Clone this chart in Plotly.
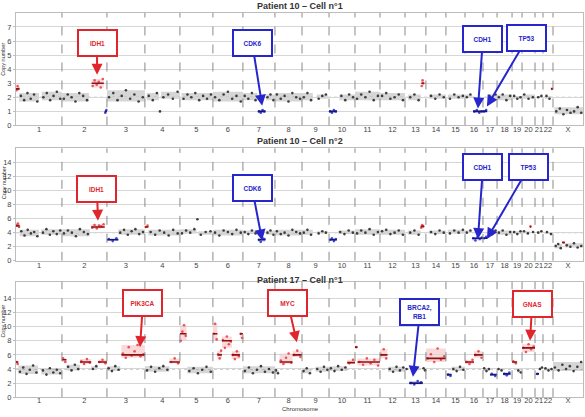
import plotly.graph_objects as go
import numpy as np

# ---------------- data ----------------
CHROMS = [str(i) for i in range(1, 23)] + ["X"]
# mappable length of each chromosome as laid out on the x axis (Mb)
CHROM_LEN = [248, 243, 205, 189, 178, 162, 173, 146, 146, 140, 135, 135,
             113, 108, 103, 97, 76, 81, 54, 70, 43, 54, 162]

PANEL_TITLES = ["Patient 10 \u2013 Cell n\u00b01", "Patient 10 \u2013 Cell n\u00b02",
                "Patient 17 \u2013 Cell n\u00b01"]
PANEL_BASELINE = [2, 4, 4]
PANEL_YMAX = [8, 16, 16.4]
PANEL_YTICKS = [list(range(0, 8)), list(range(0, 16, 2)), list(range(0, 16, 2))]

# segments: (chromosome, start fraction, end fraction, level, status g/l/n, bin values)
P1_SEGMENTS = [
    ("1", 0.00, 0.07, 2.6, "g", [2.5, 2.8, 2.6]),
    ("1", 0.07, 0.50, 2.0, "n", [2.1, 1.8, 2.3, 1.9, 2.2, 1.7]),
    ("1", 0.56, 1.00, 2.0, "n", [2.0, 2.3, 1.8, 2.1, 2.4, 1.9]),
    ("2", 0.00, 0.60, 2.0, "n", [1.9, 2.2, 2.0, 1.7, 2.3, 2.1, 1.8]),
    ("2", 0.66, 0.93, 3.0, "g", [2.8, 3.2, 2.9, 3.1, 2.7, 3.3]),
    ("2", 0.95, 1.00, 1.0, "l", [0.9, 1.1]),
    ("3", 0.00, 1.00, 2.0, "n", [2.0, 2.3, 1.8, 2.1, 2.5, 1.9, 2.2, 1.7, 2.0]),
    ("4", 0.05, 0.40, 2.0, "n", [2.1, 1.8, 2.3]),
    ("4", 0.40, 0.46, 1.0, "n", [1.0]),
    ("4", 0.46, 1.00, 2.0, "n", [2.0, 2.2, 1.9, 2.4]),
    ("5", 0.05, 1.00, 2.0, "n", [1.9, 2.2, 2.0, 2.3, 1.8, 2.1, 1.9, 2.2]),
    ("6", 0.00, 1.00, 2.0, "n", [2.0, 1.8, 2.2, 2.4, 1.9, 2.1, 1.7]),
    ("7", 0.00, 0.45, 2.0, "n", [2.1, 1.9, 2.3, 1.8]),
    ("7", 0.47, 0.70, 1.0, "l", [1.0, 0.9, 1.1, 1.0]),
    ("7", 0.72, 1.00, 2.0, "n", [2.0, 2.2, 1.8]),
    ("8", 0.00, 1.00, 2.0, "n", [2.2, 1.9, 2.1, 1.7, 2.3, 2.0, 1.9]),
    ("9", 0.00, 0.40, 2.0, "n", [2.0, 2.3, 1.8]),
    ("9", 0.55, 0.95, 2.0, "n", [1.9, 2.1, 2.2]),
    ("10", 0.00, 0.30, 1.0, "l", [1.0, 0.9, 1.1, 1.0]),
    ("10", 0.40, 1.00, 2.0, "n", [2.1, 1.8, 2.2, 2.0]),
    ("11", 0.00, 1.00, 2.0, "n", [1.9, 2.2, 2.0, 2.4, 1.8, 2.1]),
    ("12", 0.00, 1.00, 2.0, "n", [2.1, 2.3, 1.9, 2.0, 2.2, 1.8]),
    ("13", 0.15, 0.75, 2.0, "n", [2.0, 2.2, 1.8]),
    ("13", 0.78, 0.90, 3.0, "g", [2.8, 3.2, 3.0]),
    ("14", 0.15, 1.00, 2.0, "n", [2.1, 1.9, 2.2, 2.0]),
    ("15", 0.10, 1.00, 2.0, "n", [1.9, 2.2, 2.0, 2.1]),
    ("16", 0.00, 0.40, 2.0, "n", [2.0, 2.2]),
    ("16", 0.45, 1.00, 1.0, "l", [1.0, 1.1, 0.9, 1.0]),
    ("17", 0.00, 0.30, 1.0, "l", [1.0, 1.1]),
    ("17", 0.35, 1.00, 2.0, "n", [2.1, 1.9, 2.2]),
    ("18", 0.00, 1.00, 2.0, "n", [2.0, 2.2, 1.8, 2.1]),
    ("19", 0.05, 1.00, 2.0, "n", [2.1, 1.9, 2.0]),
    ("20", 0.00, 1.00, 2.0, "n", [2.2, 1.9, 2.0]),
    ("21", 0.20, 1.00, 2.0, "n", [2.0, 2.1]),
    ("22", 0.20, 0.80, 2.0, "n", [2.1, 1.9]),
    ("22", 0.80, 1.00, 2.6, "g", [2.6]),
    ("X", 0.05, 1.00, 1.0, "n", [1.0, 1.2, 0.8, 1.1, 0.9, 1.0, 1.3, 0.9]),
]

P2_SEGMENTS = [
    ("1", 0.00, 0.08, 5.0, "g", [5.0, 5.3, 4.8]),
    ("1", 0.08, 0.50, 4.0, "n", [4.2, 3.6, 4.4, 3.9, 4.1, 3.5]),
    ("1", 0.55, 1.00, 4.0, "n", [4.0, 4.5, 3.7, 4.2, 3.8, 4.3]),
    ("2", 0.00, 0.62, 4.0, "n", [3.9, 4.3, 4.0, 3.5, 4.5, 4.1, 3.8]),
    ("2", 0.65, 0.95, 4.8, "g", [4.7, 5.1, 4.6, 5.0, 4.9, 5.2]),
    ("3", 0.00, 0.30, 3.0, "l", [3.1, 2.8, 3.2]),
    ("3", 0.30, 1.00, 4.0, "n", [4.0, 4.4, 3.7, 4.2, 4.5, 3.8, 4.1]),
    ("4", 0.00, 0.10, 4.8, "g", [4.8, 5.0]),
    ("4", 0.10, 1.00, 4.0, "n", [4.1, 3.7, 4.3, 4.0, 3.6, 4.4, 3.9]),
    ("5", 0.00, 0.50, 4.0, "n", [3.9, 4.3, 4.0, 4.5]),
    ("5", 0.50, 0.56, 5.9, "n", [5.9]),
    ("5", 0.56, 1.00, 4.0, "n", [3.7, 4.1, 4.2]),
    ("6", 0.00, 1.00, 4.0, "n", [4.0, 3.6, 4.3, 4.1, 3.8, 4.4, 4.0]),
    ("7", 0.00, 0.45, 4.0, "n", [4.1, 3.8, 4.3, 3.9]),
    ("7", 0.47, 0.70, 3.0, "l", [3.0, 2.7, 3.2, 3.1]),
    ("7", 0.72, 1.00, 4.0, "n", [4.0, 4.3, 3.7]),
    ("8", 0.00, 1.00, 4.0, "n", [4.2, 3.8, 4.0, 3.6, 4.4, 4.1, 3.9]),
    ("9", 0.00, 0.40, 4.0, "n", [4.0, 4.4, 3.7]),
    ("9", 0.55, 0.95, 4.0, "n", [3.9, 4.2, 4.0]),
    ("10", 0.00, 0.30, 3.0, "l", [3.0, 3.2, 2.8, 3.1]),
    ("10", 0.35, 1.00, 4.0, "n", [4.1, 3.8, 4.3, 4.0]),
    ("11", 0.00, 1.00, 4.0, "n", [3.9, 4.3, 4.0, 4.5, 3.7, 4.1]),
    ("12", 0.00, 1.00, 4.0, "n", [4.2, 4.4, 3.8, 4.0, 4.3, 3.7]),
    ("13", 0.15, 0.75, 4.0, "n", [4.0, 4.3, 3.7]),
    ("13", 0.75, 0.90, 4.9, "g", [4.7, 5.1, 4.9]),
    ("14", 0.15, 1.00, 4.0, "n", [4.1, 3.8, 4.3, 4.0]),
    ("15", 0.10, 1.00, 4.0, "n", [3.9, 4.3, 4.0, 4.4]),
    ("16", 0.00, 0.40, 4.0, "n", [4.0, 4.3]),
    ("16", 0.40, 1.00, 3.2, "l", [3.2, 2.9, 3.4, 3.1, 3.3]),
    ("17", 0.00, 0.30, 3.2, "l", [3.2, 3.4]),
    ("17", 0.35, 1.00, 4.0, "n", [4.1, 3.8, 4.3]),
    ("18", 0.00, 1.00, 4.0, "n", [4.0, 4.3, 3.7, 4.1]),
    ("19", 0.05, 1.00, 4.0, "n", [4.1, 3.8, 4.2]),
    ("20", 0.00, 0.60, 4.0, "n", [4.2, 3.9]),
    ("20", 0.60, 0.70, 4.8, "g", [4.9]),
    ("20", 0.70, 1.00, 4.0, "n", [4.1]),
    ("21", 0.20, 1.00, 4.0, "n", [4.0, 4.2]),
    ("22", 0.20, 1.00, 4.0, "n", [4.1, 3.8]),
    ("X", 0.05, 0.30, 2.1, "n", [2.1, 2.4, 1.8]),
    ("X", 0.30, 0.40, 2.6, "g", [2.6]),
    ("X", 0.40, 1.00, 2.1, "n", [2.2, 2.0, 2.5, 1.9, 2.1]),
]

P3_SEGMENTS = [
    ("1", 0.00, 0.05, 5.0, "g", [5.0, 4.7]),
    ("1", 0.05, 0.48, 3.8, "n", [3.6, 4.2, 3.3, 3.9, 4.5, 3.5]),
    ("1", 0.55, 1.00, 3.7, "n", [3.8, 3.2, 4.1, 3.5, 3.9, 3.4]),
    ("2", 0.00, 0.10, 5.3, "g", [5.5, 5.0]),
    ("2", 0.10, 0.40, 4.2, "n", [4.3, 3.8, 4.6, 4.0]),
    ("2", 0.40, 0.65, 5.0, "g", [5.1, 4.7, 5.4, 4.9]),
    ("2", 0.65, 0.80, 4.1, "n", [4.0, 4.4]),
    ("2", 0.80, 1.00, 5.0, "g", [5.0, 5.3, 4.8]),
    ("3", 0.00, 0.35, 4.0, "n", [4.1, 3.7, 4.4, 3.9]),
    ("3", 0.38, 1.00, 6.0, "g", [6.2, 5.6, 7.1, 5.9, 6.5, 7.4, 5.8, 6.1]),
    ("4", 0.00, 0.70, 4.0, "n", [3.8, 4.3, 3.6, 4.1, 4.4, 3.9]),
    ("4", 0.70, 1.00, 5.0, "g", [5.0, 5.5, 4.8]),
    ("5", 0.00, 0.20, 9.0, "g", [8.0, 9.3, 10.2, 8.7]),
    ("5", 0.22, 1.00, 3.8, "n", [3.7, 4.1, 3.4, 3.9, 4.3, 3.6]),
    ("6", 0.00, 0.15, 9.0, "g", [9.0, 10.4, 8.2]),
    ("6", 0.15, 0.30, 6.0, "g", [6.1, 5.5, 6.6]),
    ("6", 0.30, 0.63, 8.0, "g", [8.1, 7.0, 8.6, 7.5, 7.9]),
    ("6", 0.63, 0.90, 6.0, "g", [6.0, 5.4, 6.5, 5.8]),
    ("6", 0.90, 1.00, 9.0, "g", [9.0, 8.4]),
    ("7", 0.00, 1.00, 3.8, "n", [3.7, 4.2, 3.4, 3.9, 4.4, 3.6, 4.0, 3.5]),
    ("8", 0.00, 0.15, 3.8, "n", [3.8, 3.4]),
    ("8", 0.17, 0.65, 5.0, "g", [5.2, 4.7, 5.6, 6.2, 4.9]),
    ("8", 0.65, 1.00, 6.0, "g", [6.0, 6.6, 5.7]),
    ("9", 0.00, 0.35, 3.8, "n", [3.7, 4.1, 3.4]),
    ("9", 0.50, 1.00, 4.0, "n", [4.0, 3.6, 4.3, 3.9]),
    ("10", 0.00, 0.70, 4.0, "n", [4.1, 3.7, 4.4, 3.9, 4.2]),
    ("10", 0.70, 1.00, 4.9, "g", [4.8, 5.3]),
    ("11", 0.00, 0.10, 7.1, "g", [7.1]),
    ("11", 0.10, 1.00, 5.0, "g", [5.0, 4.6, 5.5, 4.8, 5.3, 4.5]),
    ("12", 0.00, 0.30, 6.0, "g", [6.0, 6.8, 5.5]),
    ("12", 0.32, 1.00, 4.0, "n", [4.0, 3.6, 4.3, 3.8, 4.2]),
    ("13", 0.00, 0.15, 4.0, "n", [4.0]),
    ("13", 0.20, 0.85, 2.0, "l", [2.0, 1.8, 2.3, 2.1]),
    ("13", 0.85, 1.00, 4.0, "n", [4.1, 3.8]),
    ("14", 0.00, 1.00, 5.5, "g", [5.5, 6.1, 5.0, 6.9, 5.3, 5.8]),
    ("15", 0.05, 0.30, 3.2, "l", [3.2, 3.0]),
    ("15", 0.30, 1.00, 4.0, "n", [4.0, 3.7, 4.3, 3.9]),
    ("16", 0.00, 0.50, 5.0, "g", [5.0, 4.7, 5.3]),
    ("16", 0.50, 1.00, 6.0, "g", [6.0, 6.5, 5.6]),
    ("17", 0.00, 0.50, 4.0, "n", [4.1, 3.7, 4.0]),
    ("17", 0.50, 1.00, 3.2, "l", [3.3, 3.0]),
    ("18", 0.00, 0.40, 4.0, "n", [4.0, 3.8]),
    ("18", 0.40, 0.90, 3.3, "l", [3.3, 3.1, 3.5]),
    ("19", 0.00, 0.50, 5.0, "g", [5.1, 4.8]),
    ("19", 0.50, 1.00, 3.8, "n", [3.8, 3.5]),
    ("20", 0.00, 1.00, 7.0, "g", [7.0, 6.4, 7.5, 6.8, 7.2]),
    ("21", 0.10, 0.50, 3.3, "l", [3.3]),
    ("21", 0.50, 1.00, 4.0, "n", [4.0, 4.2]),
    ("22", 0.10, 1.00, 4.0, "n", [4.1, 3.8, 4.0]),
    ("X", 0.00, 1.00, 4.2, "n", [4.2, 3.8, 4.6, 4.0, 4.4, 3.7, 4.3, 5.0]),
]
SEGMENTS = [P1_SEGMENTS, P2_SEGMENTS, P3_SEGMENTS]

# annotated genes: (name, chromosome, position fraction, copy number at arrow tip, status)
P1_GENES = [("IDH1", "2", 0.78, 3.6, "g"), ("CDK6", "7", 0.60, 1.4, "l"),
            ("CDH1", "16", 0.72, 1.2, "l"), ("TP53", "17", 0.28, 1.35, "l")]
P2_GENES = [("IDH1", "2", 0.80, 5.7, "g"), ("CDK6", "7", 0.60, 2.9, "l"),
            ("CDH1", "16", 0.72, 3.1, "l"), ("TP53", "17", 0.28, 3.1, "l")]
P3_GENES = [("PIK3CA", "3", 0.87, 7.1, "g"), ("MYC", "8", 0.81, 7.8, "g"),
            ("BRCA2,<br>RB1", "13", 0.38, 2.9, "l"), ("GNAS", "20", 0.62, 8.0, "g")]
GENES = [P1_GENES, P2_GENES, P3_GENES]

# ---------------- styling / layout (pixels) ----------------
W, H = 585, 417
X0, X1 = 16, 583
PANEL_PX = [(13, 127), (150, 264), (285, 402)]   # (top, bottom) of plot area
TITLE_PX = [6, 143, 283]
YLABEL_PX = [60, 185, 325]
XLABEL_STANDOFF = [-3, -3, -4]
# box offsets (px) from arrow tip to label box centre
BOX_OFFSETS = [[(0, -32), (-10, -63), (5, -70), (40, -68)],
               [(-1, -32), (-10, -52), (5, -72), (42, -72)],
               [(3, -44), (-9, -39), (7, -65), (2, -37)]]

PT_COL = {"n": "#2b2b2b", "g": "#e8424a", "l": "#2f35d6"}
SEG_COL = {"g": "#8e1010", "l": "#15157a"}
BAND_COL = {"n": "rgba(70,70,70,0.22)", "g": "rgba(232,66,74,0.20)", "l": "rgba(47,53,214,0.22)"}
BOX_COL = {"g": "#e0262c", "l": "#2626cc"}
FONT = "Liberation Sans"

starts = np.concatenate([[0], np.cumsum(CHROM_LEN)[:-1]])
total = float(np.sum(CHROM_LEN))
cstart = dict(zip(CHROMS, starts))
clen = dict(zip(CHROMS, CHROM_LEN))
centers = starts + np.array(CHROM_LEN) / 2.0

fig = go.Figure()
shapes = []
annotations = []


def gpos(ch, f):
    return cstart[ch] + clen[ch] * f


for p in range(3):
    xa = "x" if p == 0 else f"x{p+1}"
    ya = "y" if p == 0 else f"y{p+1}"
    pts = {"n": ([], []), "g": ([], []), "l": ([], [])}
    segl = {"g": ([], []), "l": ([], [])}
    for ch, f0, f1, lev, st, vals in SEGMENTS[p]:
        n = len(vals)
        for k, v in enumerate(vals):
            pts[st][0].append(gpos(ch, f0 + (f1 - f0) * (k + 0.5) / n))
            pts[st][1].append(v)
        if len(vals) > 1:
            shapes.append(dict(type="rect", xref=xa, yref=ya,
                               x0=gpos(ch, f0), x1=gpos(ch, f1),
                               y0=min(vals), y1=max(vals),
                               fillcolor=BAND_COL[st], line=dict(width=0), layer="below"))
        if st in segl:
            segl[st][0].extend([gpos(ch, f0), gpos(ch, f1), None])
            segl[st][1].extend([lev, lev, None])
    for st in ["n", "g", "l"]:
        fig.add_trace(go.Scatter(x=pts[st][0], y=pts[st][1], mode="markers",
                                 marker=dict(size=2.6, color=PT_COL[st], opacity=0.9),
                                 xaxis=xa, yaxis=ya, showlegend=False, hoverinfo="skip"))
    for st in ["g", "l"]:
        fig.add_trace(go.Scatter(x=segl[st][0], y=segl[st][1], mode="lines",
                                 line=dict(color=SEG_COL[st], width=1.6),
                                 xaxis=xa, yaxis=ya, showlegend=False, hoverinfo="skip"))
    # chromosome boundaries
    for b in starts[1:]:
        shapes.append(dict(type="line", xref=xa, yref=ya, x0=b, x1=b, y0=0, y1=PANEL_YMAX[p],
                           line=dict(color="#8a8a8a", width=1, dash="dash")))
    # ploidy baseline
    shapes.append(dict(type="line", xref=xa, yref=ya, x0=0, x1=total,
                       y0=PANEL_BASELINE[p], y1=PANEL_BASELINE[p],
                       line=dict(color="#9a9a9a", width=1, dash="dot"), layer="below"))
    # gene callouts
    for (name, ch, f, cn, st), (ax, ay) in zip(GENES[p], BOX_OFFSETS[p]):
        annotations.append(dict(
            x=gpos(ch, f), y=cn, xref=xa, yref=ya, ax=ax, ay=ay,
            text=f"<b>{name}</b>", showarrow=True, arrowhead=2, arrowsize=1.1,
            arrowwidth=2, arrowcolor=BOX_COL[st],
            font=dict(family=FONT, size=6.5, color=BOX_COL[st]),
            bgcolor="white", bordercolor=BOX_COL[st], borderwidth=2, borderpad=1,
            width=35, height=22, align="center", valign="middle"))
    # title
    annotations.append(dict(x=300 / W, y=1 - TITLE_PX[p] / H, xref="paper", yref="paper",
                            text=f"<b>{PANEL_TITLES[p]}</b>", showarrow=False,
                            font=dict(family=FONT, size=9, color="#333"),
                            xanchor="center", yanchor="middle"))
    annotations.append(dict(x=3.5 / W, y=1 - YLABEL_PX[p] / H, xref="paper", yref="paper",
                            text="Copy number", textangle=-90, showarrow=False,
                            font=dict(family=FONT, size=5.5, color="#333"),
                            xanchor="center", yanchor="middle"))
    top, bot = PANEL_PX[p]
    fig.layout[("xaxis" if p == 0 else f"xaxis{p+1}")] = dict(
        domain=[X0 / W, X1 / W], range=[0, total], anchor=ya,
        tickvals=list(centers), ticktext=CHROMS, tickangle=0, showgrid=False,
        zeroline=False, showline=True, mirror=True, linecolor="#bdbdbd", linewidth=1,
        ticks="", ticklabelstandoff=XLABEL_STANDOFF[p],
        tickfont=dict(family=FONT, size=7.5, color="#444"), fixedrange=True)
    fig.layout[("yaxis" if p == 0 else f"yaxis{p+1}")] = dict(
        domain=[1 - bot / H, 1 - top / H], range=[0, PANEL_YMAX[p]], anchor=xa,
        tickvals=PANEL_YTICKS[p], showgrid=True, gridcolor="#d6d6d6", gridwidth=1,
        zeroline=False, showline=True, mirror=True, linecolor="#bdbdbd", linewidth=1,
        ticks="outside", ticklen=2, tickcolor="#bdbdbd",
        tickfont=dict(family=FONT, size=7.5, color="#444"), fixedrange=True)

annotations.append(dict(x=300 / W, y=0, xref="paper", yref="paper",
                        text="Chromosome", showarrow=False,
                        font=dict(family=FONT, size=6, color="#333"),
                        xanchor="center", yanchor="bottom", yshift=-2))

fig.update_layout(width=W, height=H, margin=dict(l=0, r=0, t=0, b=0),
                  paper_bgcolor="white", plot_bgcolor="white",
                  shapes=shapes, annotations=annotations, showlegend=False)

fig.write_html("out.html")
